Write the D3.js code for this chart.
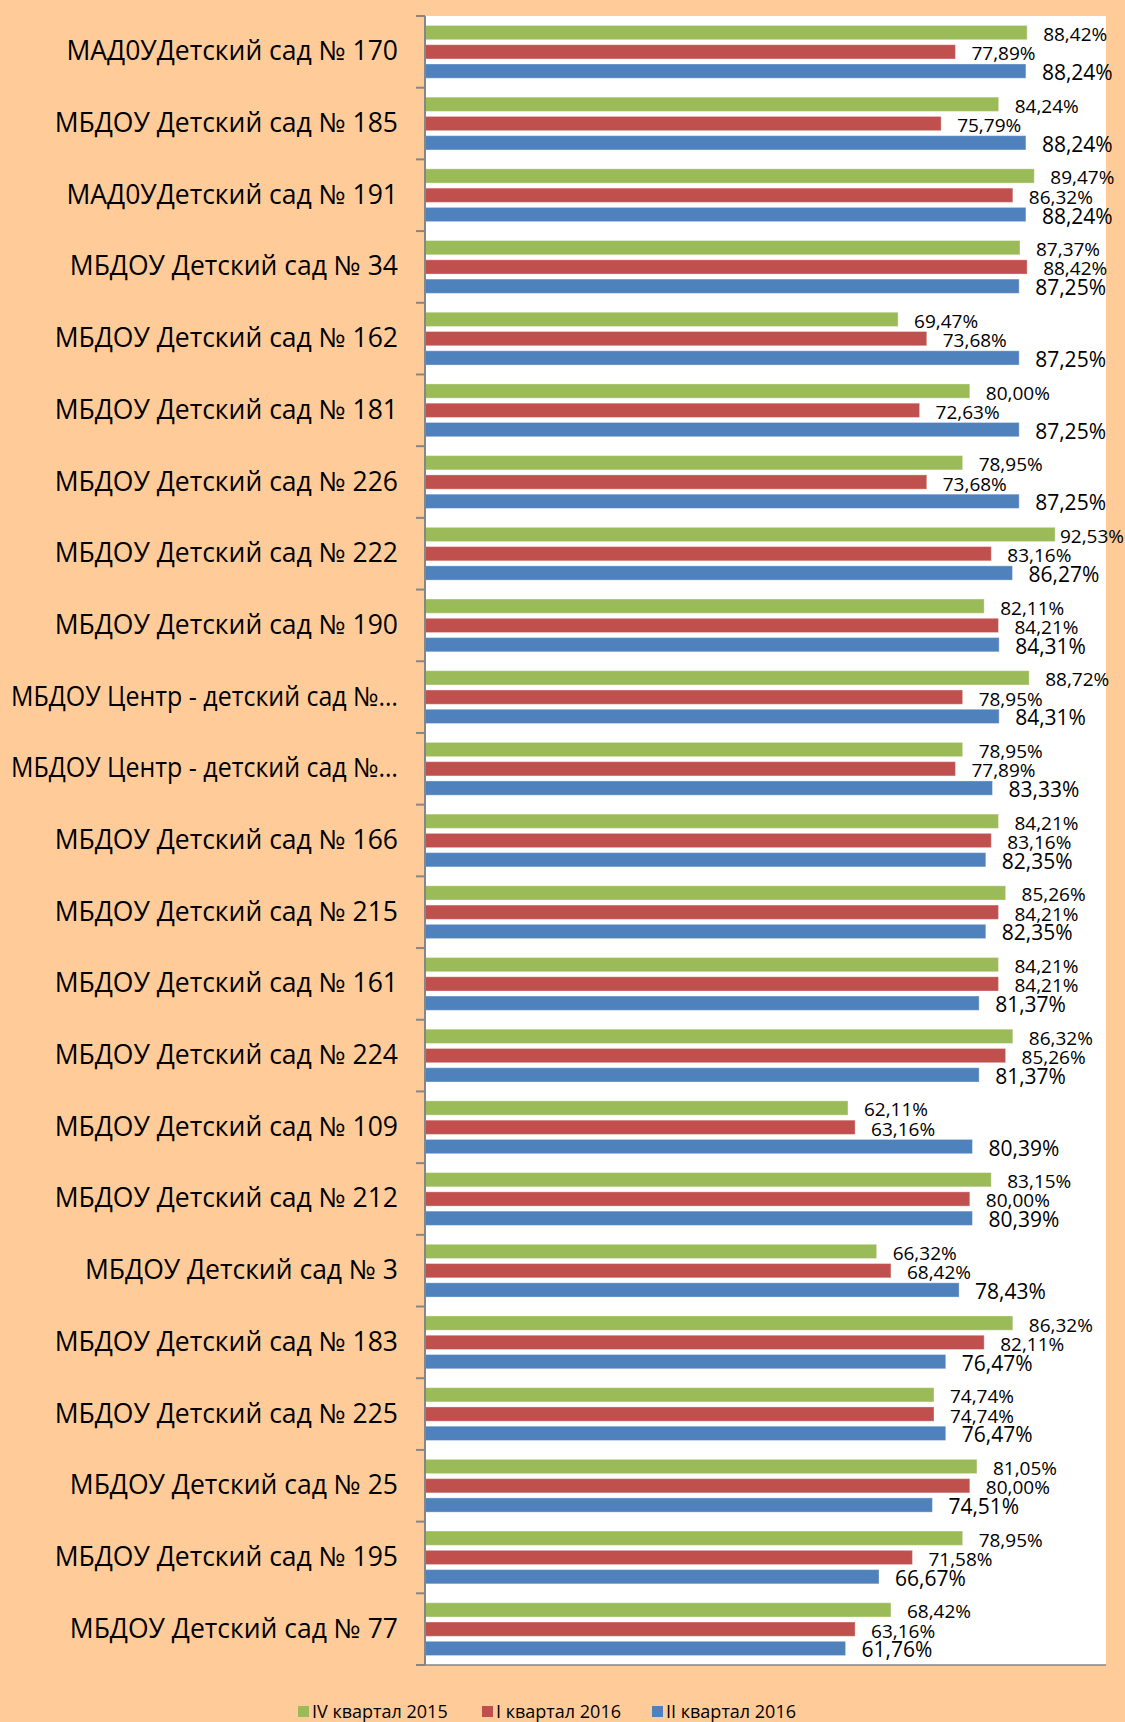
<!DOCTYPE html>
<html>
<head>
<meta charset="utf-8">
<script src="https://cdn.jsdelivr.net/npm/d3@7"></script>
<style>
  body { margin: 0; background: #ffcc99; }
  svg { display: block; }
</style>
</head>
<body>
<svg id="chart" width="1125" height="1722"></svg>
<script>
// categories, top to bottom
var categories = [
  "МАД0УДетский сад № 170",
  "МБДОУ Детский сад № 185",
  "МАД0УДетский сад № 191",
  "МБДОУ Детский сад № 34",
  "МБДОУ Детский сад № 162",
  "МБДОУ Детский сад № 181",
  "МБДОУ Детский сад № 226",
  "МБДОУ Детский сад № 222",
  "МБДОУ Детский сад № 190",
  "МБДОУ Центр - детский сад №…",
  "МБДОУ Центр - детский сад №… ",
  "МБДОУ Детский сад № 166",
  "МБДОУ Детский сад № 215",
  "МБДОУ Детский сад № 161",
  "МБДОУ Детский сад № 224",
  "МБДОУ Детский сад № 109",
  "МБДОУ Детский сад № 212",
  "МБДОУ Детский сад № 3",
  "МБДОУ Детский сад № 183",
  "МБДОУ Детский сад № 225",
  "МБДОУ Детский сад № 25",
  "МБДОУ Детский сад № 195",
  "МБДОУ Детский сад № 77"
];

var seriesNames = ["IV квартал 2015", "I квартал 2016", "II квартал 2016"];
var seriesColors = ["#9bbb59", "#c0504d", "#4f81bd"];

var q4_2015 = [88.42, 84.24, 89.47, 87.37, 69.47, 80.00, 78.95, 92.53, 82.11, 88.72, 78.95, 84.21, 85.26, 84.21, 86.32, 62.11, 83.15, 66.32, 86.32, 74.74, 81.05, 78.95, 68.42];
var q1_2016 = [77.89, 75.79, 86.32, 88.42, 73.68, 72.63, 73.68, 83.16, 84.21, 78.95, 77.89, 83.16, 84.21, 84.21, 85.26, 63.16, 80.00, 68.42, 82.11, 74.74, 80.00, 71.58, 63.16];
var q2_2016 = [88.24, 88.24, 88.24, 87.25, 87.25, 87.25, 87.25, 86.27, 84.31, 84.31, 83.33, 82.35, 82.35, 81.37, 81.37, 80.39, 80.39, 78.43, 76.47, 76.47, 74.51, 66.67, 61.76];

var seriesValues = [q4_2015, q1_2016, q2_2016];

var ru = d3.formatLocale({decimal: ",", thousands: " ", grouping: [3], currency: ["", ""]});
var fmt = ru.format(".2f");

var svg = d3.select('#chart');
var plot = {left: 425, right: 1106, top: 16, bottom: 1665};

svg.append('rect')
	.attr('width', 1125).attr('height', 1722)
	.attr('fill', '#ffcc99');

svg.append('rect')
	.attr('x', plot.left).attr('y', plot.top)
	.attr('width', plot.right - plot.left)
	.attr('height', plot.bottom - plot.top)
	.attr('fill', '#ffffff');

var x = d3.scaleLinear().domain([0, 100]).range([plot.left, plot.right]);
var y = d3.scaleBand().domain(categories).range([plot.top, plot.bottom]);
var inner = d3.scaleBand().domain(d3.range(3)).range([0, y.bandwidth()])
	.paddingInner(0.26).paddingOuter(0.49);

var rows = categories.map(function(c, i) {
	return {cat: c, vals: seriesValues.map(function(s) {return s[i];})};
});

var groups = svg.append('g').selectAll('g')
	.data(rows)
	.enter()
	.append('g')
	.attr('transform', function(d) {return 'translate(0,' + y(d.cat) + ')';});

groups.selectAll('rect')
	.data(function(d) {return d.vals;})
	.enter()
	.append('rect')
	.attr('x', x(0))
	.attr('y', function(d, i) {return inner(i);})
	.attr('width', function(d) {return x(d) - x(0);})
	.attr('height', inner.bandwidth())
	.attr('fill', function(d, i) {return seriesColors[i];})
	.attr('stroke', '#ffffff')
	.attr('stroke-opacity', 0.35)
	.attr('stroke-width', 1);

// value labels, pulled back inside the chart if they would run off the edge
groups.selectAll('text')
	.data(function(d) {return d.vals;})
	.enter()
	.append('text')
	.attr('y', function(d, i) {return inner(i) + inner.bandwidth() / 2 + (i == 2 ? 9 : 8.5);})
	.attr('font-family', 'Open Sans')
	.attr('font-size', function(d, i) {return i == 2 ? 21 : 19;})
	.attr('fill', '#000')
	.text(function(d) {return fmt(d) + '%';})
	.attr('x', function(d) {
		var w = this.getComputedTextLength();
		return Math.min(x(d) + 16, 1124 - w);
	});

// category axis
var yAxis = d3.axisLeft(y).tickSize(0).tickPadding(27);
var ag = svg.append('g')
	.attr('transform', 'translate(' + plot.left + ',0)')
	.call(yAxis);
ag.select('.domain').remove();
var maxLabel = plot.left - 27 - 11;
ag.selectAll('text')
	.attr('font-family', 'Open Sans')
	.attr('font-size', 26.5)
	.attr('fill', '#000')
	.attr('dy', null)
	.attr('y', 8.5)
	.text(function(d) {return d.trim();})
	.each(function() {
		// squeeze labels that would run off the left edge
		if (this.getComputedTextLength() > maxLabel) {
			d3.select(this)
				.attr('textLength', maxLabel)
				.attr('lengthAdjust', 'spacingAndGlyphs');
		}
	});

var bounds = categories.map(function(c) {return y(c);}).concat([plot.bottom]);
svg.append('g').selectAll('line')
	.data(bounds)
	.enter()
	.append('line')
	.attr('x1', plot.left - 9).attr('x2', plot.left)
	.attr('y1', function(d) {return d;}).attr('y2', function(d) {return d;})
	.attr('stroke', '#868686')
	.attr('stroke-width', 2);

svg.append('line')
	.attr('x1', plot.left).attr('x2', plot.left)
	.attr('y1', plot.top).attr('y2', plot.bottom)
	.attr('stroke', '#868686')
	.attr('stroke-width', 2);

svg.append('line')
	.attr('x1', plot.left).attr('x2', plot.right)
	.attr('y1', plot.bottom).attr('y2', plot.bottom)
	.attr('stroke', '#868686')
	.attr('stroke-width', 1.5);

// legend
var legendX = [298, 482, 652];
var legend = svg.append('g').selectAll('g')
	.data(seriesNames)
	.enter()
	.append('g')
	.attr('transform', function(d, i) {return 'translate(' + legendX[i] + ',1706)';});
legend.append('rect')
	.attr('width', 11).attr('height', 11)
	.attr('fill', function(d, i) {return seriesColors[i];});
legend.append('text')
	.attr('x', 14).attr('y', 12)
	.attr('font-family', 'Open Sans')
	.attr('font-size', 18)
	.attr('fill', '#000')
	.text(function(d) {return d;});
</script>
</body>
</html>
